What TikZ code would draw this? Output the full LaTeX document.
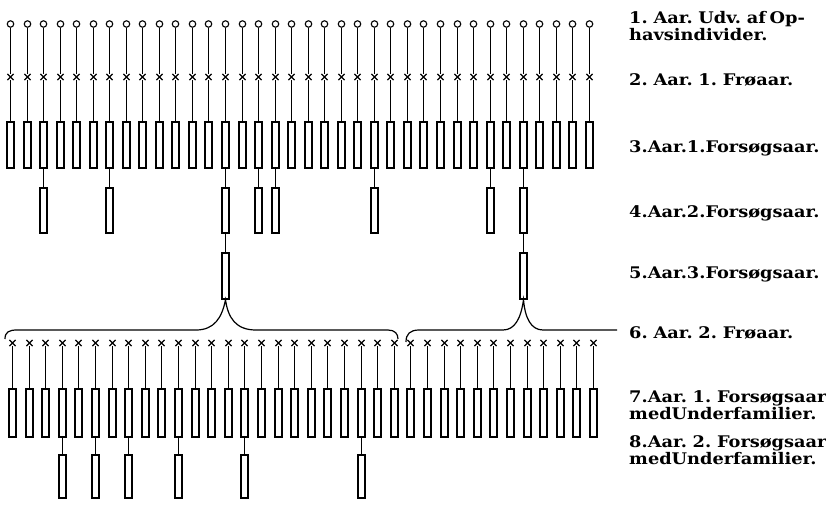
\documentclass[tikz,border=0pt]{standalone}
\usepackage{fontspec}
\setmainfont{DejaVu Serif}[FakeStretch=1.11,WordSpace=0.6]
\usetikzlibrary{shapes.misc}
\begin{document}
\begin{tikzpicture}[x=1pt,y=-1pt,
  knob/.style={circle,draw,line width=1.1pt,minimum size=6.5pt,inner sep=0pt},
  xmark/.style={cross out,draw,line width=1.2pt,minimum size=5pt,inner sep=0pt},
  plant/.style={rectangle,draw,line width=1.3pt,minimum width=7pt,inner sep=0pt},
  stalk/.style={line width=0.9pt},
  brace/.style={line width=1.2pt},
  lab/.style={anchor=base west,inner sep=0pt,font=\fontsize{16}{17}\selectfont\bfseries}]
\useasboundingbox (0,0) rectangle (826,504);
% upper part
\foreach \i in {0,...,35}{
  \pgfmathsetmacro\xx{round(10+16.54*\i)+0.5}
  \node[knob] (c\i) at (\xx,24) {};
  \node[xmark] (x\i) at (\xx,77) {};
  \node[plant,minimum height=46pt] (b\i) at (\xx,145) {};
  \draw[stalk] (c\i) -- (x\i);
  \draw[stalk] (x\i) -- (b\i);
}
\foreach \i in {2,6,13,15,16,22,29,31}{
  \pgfmathsetmacro\xx{round(10+16.54*\i)+0.5}
  \node[plant,minimum height=45pt] (d\i) at (\xx,210.5) {};
  \draw[stalk] (b\i) -- (d\i);
}
\foreach \i in {13,31}{
  \pgfmathsetmacro\xx{round(10+16.54*\i)+0.5}
  \node[plant,minimum height=46pt] (e\i) at (\xx,276) {};
  \draw[stalk] (d\i) -- (e\i);
}
% braces
\coordinate (lb1) at (5,339);
\coordinate (lb2) at (398,339);
\coordinate (rb1) at (406,342);
\coordinate (rb2) at (617,330);
\draw[brace] (lb1) .. controls (5,332) and (9,330) .. (17,330) -- (196,330)
  .. controls (214,330) and (222,318) .. (e13.south)
  .. controls (228,318) and (236,330) .. (256,330) -- (388,330)
  .. controls (395,330) and (398,334) .. (lb2);
\draw[brace] (rb1) .. controls (406,334) and (410,330) .. (419,330) -- (503,330)
  .. controls (515,330) and (521,318) .. (e31.south)
  .. controls (525,318) and (531,330) .. (543,330) -- (rb2);
% lower part
\foreach \j in {0,...,35}{
  \pgfmathsetmacro\xx{round(12+16.6*\j)+0.5}
  \node[xmark] (y\j) at (\xx,343) {};
  \node[plant,minimum height=48pt] (f\j) at (\xx,413) {};
  \draw[stalk] (y\j) -- (f\j);
}
\foreach \j in {3,5,7,10,14,21}{
  \pgfmathsetmacro\xx{round(12+16.6*\j)+0.5}
  \node[plant,minimum height=43pt] (g\j) at (\xx,476.5) {};
  \draw[stalk] (f\j) -- (g\j);
}
% labels
\node[lab] (l1a) at (629,23) {1. Aar. Udv. af Op-};
\node[lab] (l1b) at (629,40) {havsindivider.};
\node[lab] (l2) at (629,85) {2. Aar. 1. Frøaar.};
\node[lab] (l3) at (629,152) {3.Aar.1.Forsøgsaar.};
\node[lab] (l4) at (629,217) {4.Aar.2.Forsøgsaar.};
\node[lab] (l5) at (629,278) {5.Aar.3.Forsøgsaar.};
\node[lab] (l6) at (629,338) {6. Aar. 2. Frøaar.};
\node[lab] (l7a) at (629,402) {7.Aar. 1. Forsøgsaar};
\node[lab] (l7b) at (629,419) {medUnderfamilier.};
\node[lab] (l8a) at (629,447) {8.Aar. 2. Forsøgsaar};
\node[lab] (l8b) at (629,464) {medUnderfamilier.};
\end{tikzpicture}
\end{document}
